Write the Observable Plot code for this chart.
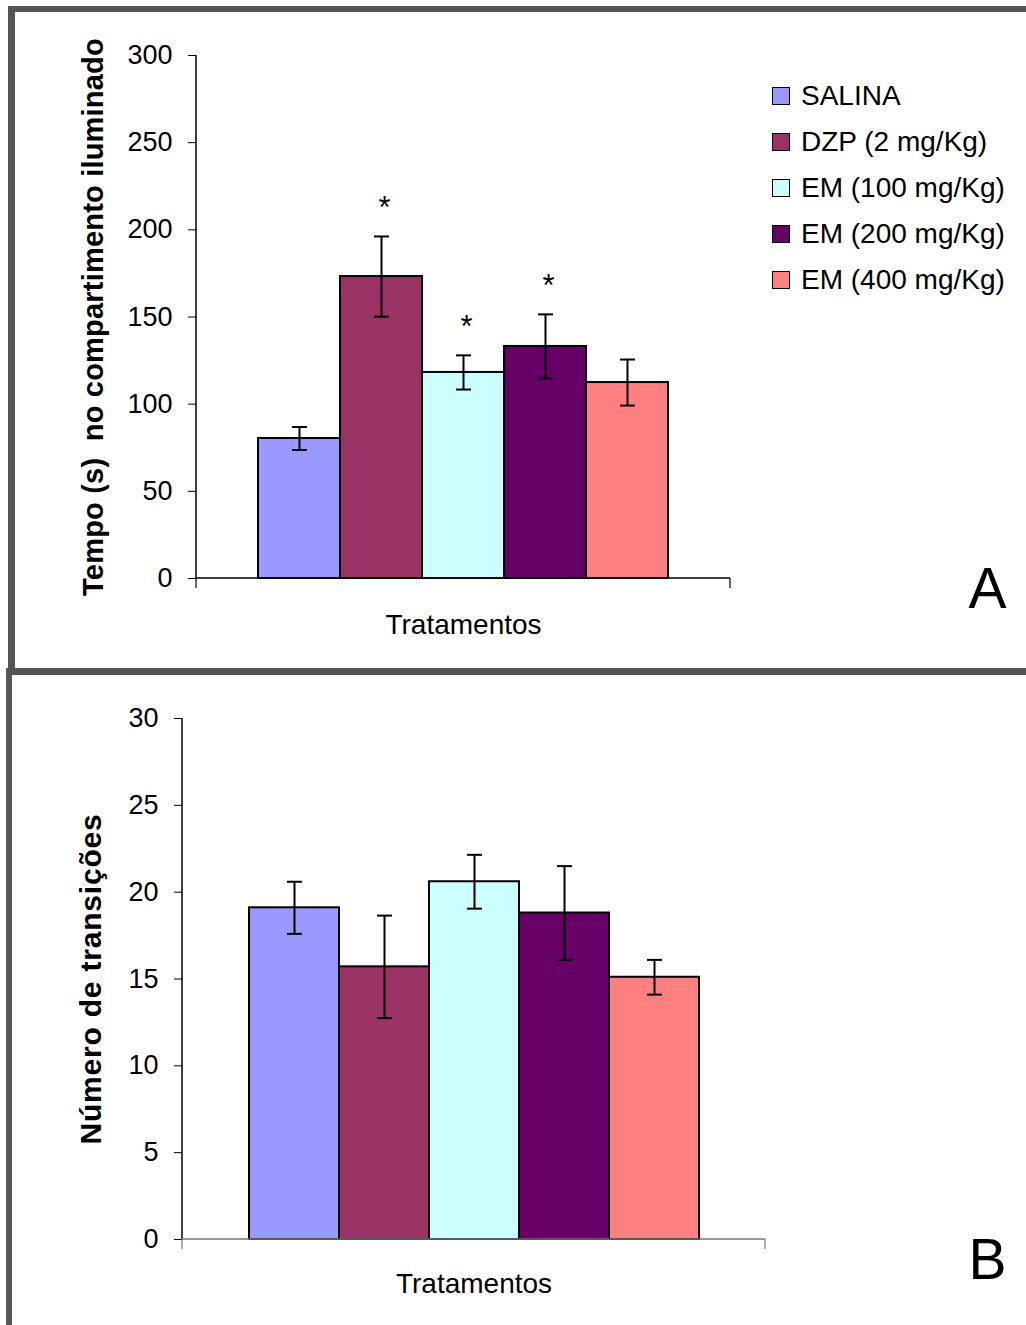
<!DOCTYPE html>
<html>
<head>
<meta charset="utf-8">
<script src="https://cdn.jsdelivr.net/npm/d3@7"></script>
<script src="https://cdn.jsdelivr.net/npm/@observablehq/plot@0.6"></script>
<style>
  html, body { margin: 0; padding: 0; background: #fff; }
  #root { position: relative; width: 1026px; height: 1325px; background: #fff; overflow: hidden;
          font-family: "Liberation Sans", Arial, sans-serif; color: #000; }
  .bd { position: absolute; background: #555; }
  .panel { position: absolute; left: 0; }
  .legend { position: absolute; left: 772px; top: 73px; font-size: 28px; line-height: 46px; }
  .legend .row { display: flex; align-items: center; height: 46px; white-space: nowrap; }
  .legend .sw { width: 16px; height: 16px; border: 1.5px solid #000; margin-right: 11px; box-sizing: content-box; }
</style>
</head>
<body>
<div id="root">
  <div class="bd" style="left:8px;top:6px;width:1018px;height:6px"></div>
  <div class="bd" style="left:8px;top:6px;width:7px;height:662px"></div>
  <div class="bd" style="left:6px;top:668px;width:1020px;height:7px"></div>
  <div class="bd" style="left:6px;top:668px;width:6px;height:657px"></div>
  <div id="panelA" class="panel" style="top:0px"></div>
  <div id="panelB" class="panel" style="top:668px"></div>
  <div id="legend" class="legend"></div>
</div>
<script>
// ---- data ----
const categories = ["SALINA", "DZP (2 mg/Kg)", "EM (100 mg/Kg)", "EM (200 mg/Kg)", "EM (400 mg/Kg)"];
const colors = ["#9999FF", "#993366", "#CCFFFF", "#660066", "#FF8080"];

const tempoMeans = [80.3, 173.2, 118.2, 133.1, 112.4];
const tempoErrors = [6.6, 23.0, 9.8, 18.4, 13.2];
const tempoSignificant = [false, true, true, true, false];
const tempoTicks = [0, 50, 100, 150, 200, 250, 300];

const transMeans = [19.1, 15.7, 20.6, 18.8, 15.1];
const transErrors = [1.5, 2.95, 1.55, 2.7, 1.0];
const transSignificant = [false, false, false, false, false];
const transTicks = [0, 5, 10, 15, 20, 25, 30];

const yLabelA = "Tempo (s)  no compartimento iluminado";
const yLabelB = "Número de transições";
const xLabel = "Tratamentos";

// ---- helpers ----
const FONT = "'Liberation Sans', Arial, sans-serif";
const capSymbol = {
  draw(ctx, size) {
    const r = Math.sqrt(size / Math.PI);
    ctx.moveTo(-r, 0);
    ctx.lineTo(r, 0);
  }
};

function axisFrame(axisColor, xAxisColor) {
  return (index, scales, values, dimensions) => {
    const {width, height, marginLeft, marginRight, marginTop, marginBottom} = dimensions;
    const g = d3.create("svg:g");
    const y0 = height - marginBottom;
    g.append("line").attr("x1", marginLeft).attr("x2", marginLeft)
      .attr("y1", marginTop).attr("y2", y0).attr("stroke", axisColor).attr("stroke-width", 1.5);
    g.append("line").attr("x1", marginLeft).attr("x2", width - marginRight)
      .attr("y1", y0).attr("y2", y0).attr("stroke", xAxisColor).attr("stroke-width", 1.5);
    for (const x of [marginLeft, width - marginRight]) {
      g.append("line").attr("x1", x).attr("x2", x).attr("y1", y0).attr("y2", y0 + 10)
        .attr("stroke", xAxisColor).attr("stroke-width", 1.2);
    }
    return g.node();
  };
}

function panel({means, errors, sig, ticks, label, labelSize, labelSpacing, letter, height, margins, paddingOuter, xAxisColor, labelX, letterDx, letterDy, xLabelDy}) {
  const data = categories.map((name, i) => ({name, mean: means[i], err: errors[i], sig: sig[i]}));
  const sigData = data.filter(d => d.sig);
  const svg = Plot.plot({
    width: 1026,
    height,
    marginLeft: margins[0],
    marginRight: margins[1],
    marginTop: margins[2],
    marginBottom: margins[3],
    style: {fontFamily: FONT, color: "#000", background: "transparent", overflow: "visible"},
    x: {domain: categories, paddingInner: 0, paddingOuter, axis: null},
    y: {domain: [ticks[0], ticks[ticks.length - 1]], axis: null},
    color: {domain: categories, range: colors},
    marks: [
      Plot.barY(data, {x: "name", y: "mean", fill: "name", stroke: "#000", strokeWidth: 2}),
      Plot.ruleX(data, {x: "name", y1: d => d.mean - d.err, y2: d => d.mean + d.err, stroke: "#000", strokeWidth: 2}),
      Plot.dot(data, {x: "name", y: d => d.mean + d.err, symbol: capSymbol, r: 7.5, stroke: "#000", strokeWidth: 2, fill: "none"}),
      Plot.dot(data, {x: "name", y: d => d.mean - d.err, symbol: capSymbol, r: 7.5, stroke: "#000", strokeWidth: 2, fill: "none"}),
      Plot.text(sigData, {x: "name", y: d => d.mean + d.err, text: () => "*", dy: -28, dx: 3, fontSize: 31, fill: "#000"}),
      Plot.axisY({ticks, tickSize: 8, tickPadding: 16, fontSize: 27, label: null, tickFormat: d => String(d), stroke: "#000"}),
      axisFrame("#000", xAxisColor),
      Plot.text([label], {text: d => d, frameAnchor: "left", rotate: -90, dx: labelX - margins[0], textAnchor: "middle", lineAnchor: "middle", fontSize: labelSize, fontWeight: "bold", fill: "#000", className: "ylab"}),
      Plot.text([xLabel], {text: d => d, frameAnchor: "bottom", dy: xLabelDy, textAnchor: "middle", lineAnchor: "middle", fontSize: 28, fill: "#000"}),
      Plot.text([letter], {text: d => d, frameAnchor: "bottom-right", dx: letterDx, dy: letterDy, fontSize: 57, textAnchor: "middle", lineAnchor: "middle", fill: "#000"})
    ]
  });
  d3.select(svg).selectAll(".ylab text").style("letter-spacing", labelSpacing + "px");
  return svg;
}

document.getElementById("panelA").append(panel({
  means: tempoMeans, errors: tempoErrors, sig: tempoSignificant, ticks: tempoTicks,
  label: yLabelA, labelSize: 29, labelSpacing: 0.2, letter: "A", height: 668, margins: [196, 296, 55, 90], paddingOuter: 0.75,
  xAxisColor: "#000", labelX: 93, letterDx: 257, letterDy: 11, xLabelDy: 47
}));

document.getElementById("panelB").append(panel({
  means: transMeans, errors: transErrors, sig: transSignificant, ticks: transTicks,
  label: yLabelB, labelSize: 30, labelSpacing: 0.8, letter: "B", height: 657, margins: [182, 261, 50, 86], paddingOuter: 0.73,
  xAxisColor: "#777", labelX: 91, letterDx: 222, letterDy: 21, xLabelDy: 45
}));

// ---- legend ----
const legend = d3.select("#legend");
categories.forEach((c, i) => {
  const row = legend.append("div").attr("class", "row");
  row.append("div").attr("class", "sw").style("background", colors[i]);
  row.append("span").text(c);
});
</script>
</body>
</html>
